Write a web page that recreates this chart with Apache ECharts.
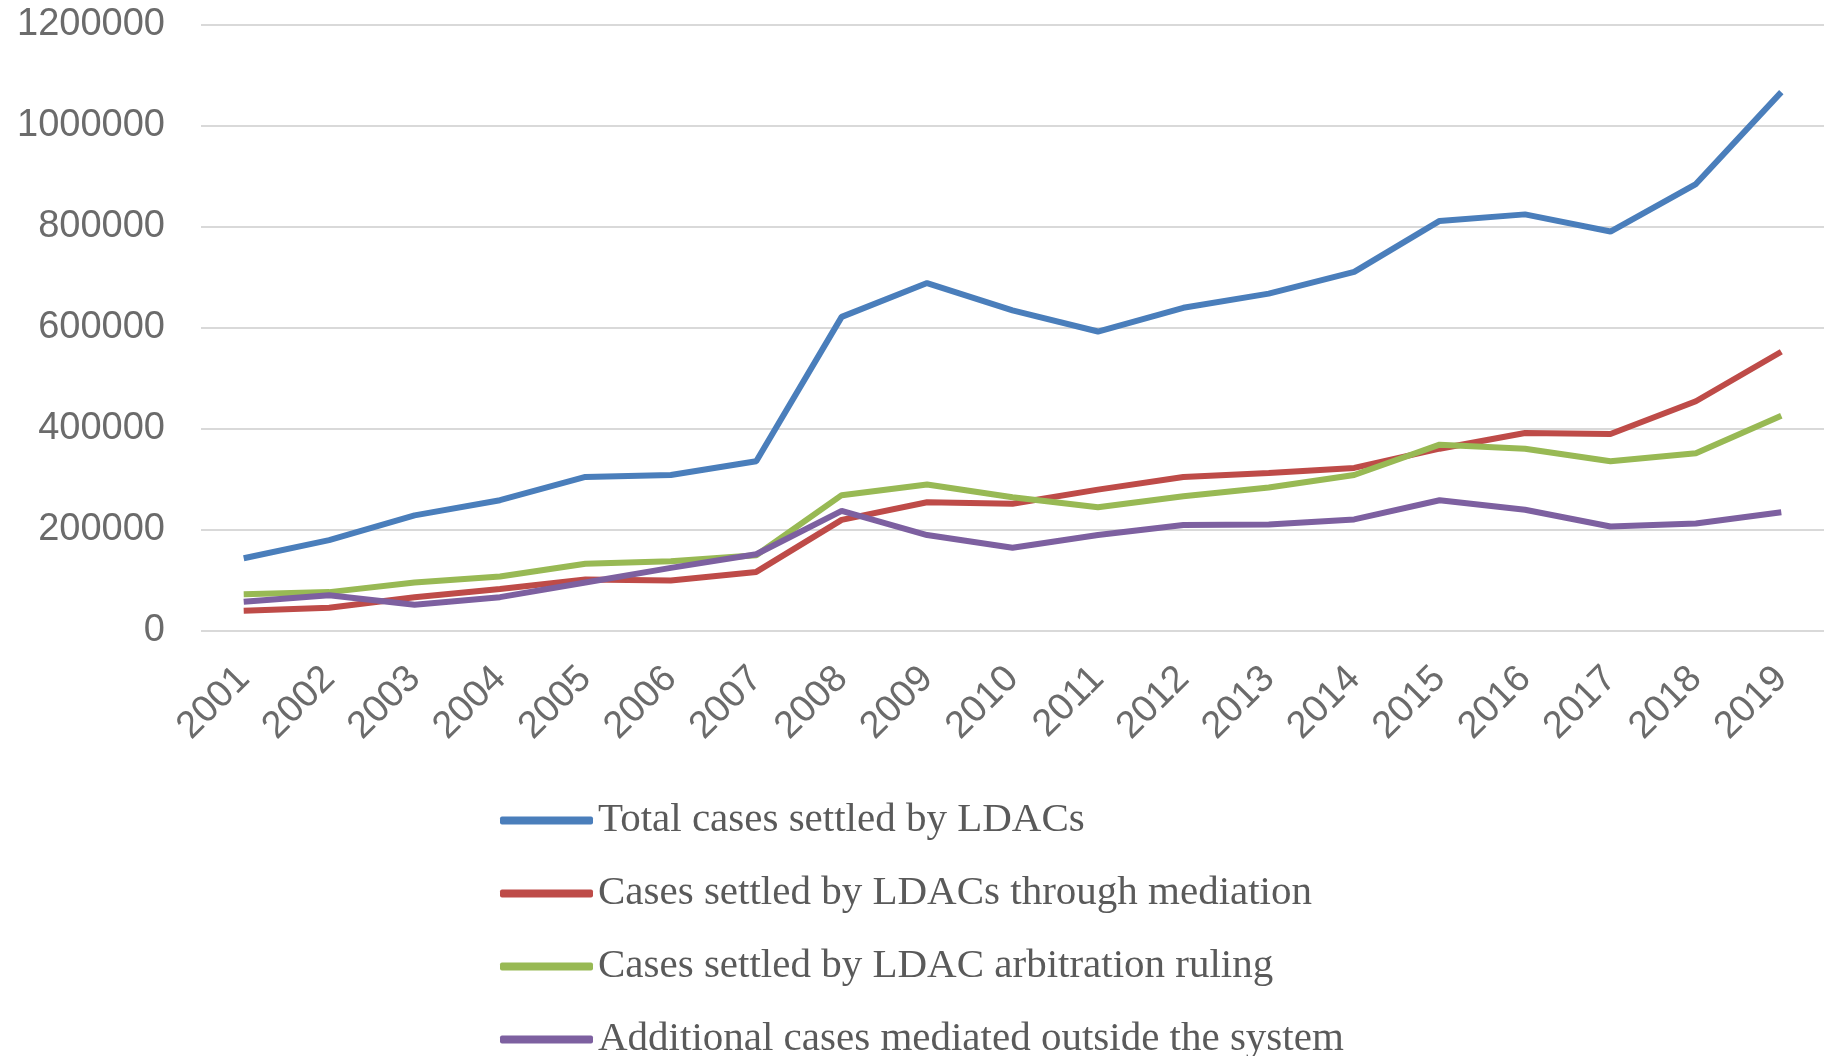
<!DOCTYPE html>
<html>
<head>
<meta charset="utf-8">
<title>LDAC cases</title>
<script src="https://cdn.jsdelivr.net/npm/echarts@6/dist/echarts.min.js"></script>
<style>
html, body { margin: 0; padding: 0; background: #fff; }
#chart { width: 1824px; height: 1056px; }
</style>
</head>
<body>
<div id="chart"></div>
<script>
// data
var years = ['2001', '2002', '2003', '2004', '2005', '2006', '2007', '2008', '2009', '2010',
  '2011', '2012', '2013', '2014', '2015', '2016', '2017', '2018', '2019'];
var totalCases = [144000, 180000, 229000, 259000, 305000, 309000, 336000, 622000, 689000, 635000,
  593000, 640000, 668000, 711000, 812000, 825000, 791000, 885000, 1067000];
var mediationCases = [40000, 46000, 67000, 83000, 102000, 100000, 117000, 220000, 255000, 252000,
  280000, 305000, 313000, 323000, 361000, 392000, 390000, 455000, 553000];
var arbitrationCases = [73000, 77000, 96000, 108000, 133000, 138000, 150000, 269000, 290000, 265000,
  245000, 267000, 284000, 309000, 369000, 361000, 336000, 352000, 426000];
var outsideCases = [58000, 71000, 52000, 67000, 96000, 125000, 152000, 238000, 190000, 165000,
  190000, 210000, 211000, 221000, 259000, 240000, 207000, 213000, 235000];
var yTicks = [0, 200000, 400000, 600000, 800000, 1000000, 1200000];

var names = [
  'Total cases settled by LDACs',
  'Cases settled by LDACs through mediation',
  'Cases settled by LDAC arbitration ruling',
  'Additional cases mediated outside the system'
];
var colors = ['#4a7ebb', '#be4b48', '#98b954', '#7d60a0'];

function lineSeries(i, data) {
  return {
    name: names[i],
    type: 'line',
    data: data,
    showSymbol: false,
    symbol: 'none',
    lineStyle: { width: 6, color: colors[i] },
    itemStyle: { color: colors[i] }
  };
}

// one legend block per row, stacked like the original
function legendRow(i) {
  return {
    orient: 'vertical',
    left: 500,
    top: 800 + i * 73,
    padding: 0,
    itemWidth: 93,
    itemHeight: 8,
    icon: 'roundRect',
    data: [names[i]],
    textStyle: {
      color: '#5a5a5a',
      fontFamily: 'Liberation Serif',
      fontSize: 41
    }
  };
}

var myChart = echarts.init(document.getElementById('chart'));
var option = {
  backgroundColor: '#fff',
  animation: false,
  color: colors,
  grid: { left: 201, right: -3, top: 25, bottom: 425, containLabel: false },
  xAxis: {
    type: 'category',
    data: years,
    boundaryGap: true,
    axisLine: { show: false },
    axisTick: { show: false },
    axisLabel: {
      rotate: 45,
      interval: 0,
      margin: 42,
      color: '#6b6b6b',
      fontFamily: 'Liberation Sans',
      fontSize: 38
    }
  },
  yAxis: {
    type: 'value',
    min: yTicks[0],
    max: yTicks[yTicks.length - 1],
    interval: yTicks[1] - yTicks[0],
    axisLine: { show: false },
    axisTick: { show: false },
    splitLine: { lineStyle: { color: '#d9d9d9', width: 2 } },
    axisLabel: {
      margin: 36,
      color: '#6b6b6b',
      fontFamily: 'Liberation Sans',
      fontSize: 38,
      formatter: function (v) { return String(v); }
    }
  },
  legend: [legendRow(0), legendRow(1), legendRow(2), legendRow(3)],
  series: [
    lineSeries(0, totalCases),
    lineSeries(1, mediationCases),
    lineSeries(2, arbitrationCases),
    lineSeries(3, outsideCases)
  ]
};
myChart.setOption(option);
</script>
</body>
</html>
